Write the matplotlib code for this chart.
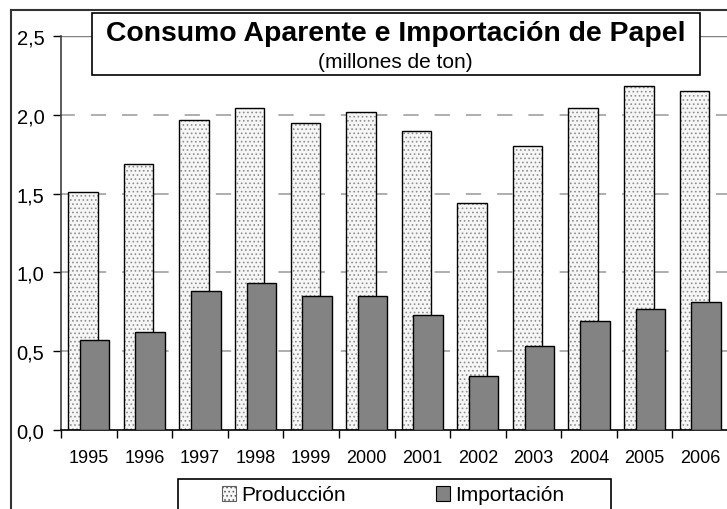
import numpy as np
import matplotlib.pyplot as plt
from matplotlib.patches import Rectangle, Patch
from matplotlib.lines import Line2D

# Consumo aparente de papel: producción e importación (millones de ton)
years = ['1995', '1996', '1997', '1998', '1999', '2000',
         '2001', '2002', '2003', '2004', '2005', '2006']
produccion = [1.51, 1.69, 1.97, 2.04, 1.95, 2.02, 1.90, 1.44, 1.80, 2.04, 2.18, 2.15]
importacion = [0.57, 0.62, 0.88, 0.93, 0.85, 0.85, 0.73, 0.34, 0.53, 0.69, 0.77, 0.81]
y_ticks = [0.0, 0.5, 1.0, 1.5, 2.0, 2.5]
y_labels = ['0,0', '0,5', '1,0', '1,5', '2,0', '2,5']

W, H = 727, 510
plt.rcParams['font.family'] = ['Liberation Sans', 'DejaVu Sans']
plt.rcParams['hatch.linewidth'] = 0.7
plt.rcParams['lines.scale_dashes'] = False

fig = plt.figure(figsize=(W / 100, H / 100), dpi=100)
ax = fig.add_axes([61 / W, 1 - 431 / H, 667 / W, 394 / H])

x = np.arange(len(years))
bw = 0.53
prod_fill = dict(color='#f6f6f6', edgecolor='#8f8f8f', hatch='....', linewidth=0)
ax.bar(x - 0.105, produccion, bw, zorder=2, **prod_fill)
ax.bar(x - 0.105, produccion, bw, fill=False, edgecolor='black', linewidth=1, zorder=3)
ax.bar(x + 0.105, importacion, bw, color='#838383', edgecolor='black', linewidth=1, zorder=4)

for v in y_ticks[1:-1]:
    ax.axhline(v, color='#a8a8a8', lw=1.3, ls=(1, (11, 11.5)), zorder=1)
ax.axhline(2.5, color='#808080', lw=1, zorder=1)

ax.set_xlim(-0.5, 11.5)
ax.set_ylim(0, 2.5)
for s in ['top', 'right']:
    ax.spines[s].set_visible(False)
ax.spines['left'].set_color('#404040')
ax.spines['left'].set_linewidth(1.2)
ax.spines['bottom'].set_linewidth(1.2)

ax.set_yticks(y_ticks, y_labels, fontsize=14.5)
ax.tick_params(axis='y', length=6, width=1, pad=6, direction='out')
ax.set_xticks(x, years, fontsize=13)
ax.set_xticks(np.arange(-0.5, 12, 1), minor=True)
ax.tick_params(axis='x', which='major', length=0, pad=14)
ax.tick_params(axis='x', which='minor', length=6, width=1, direction='out')

# outer chart border (open at right and bottom)
fig.add_artist(Line2D([11 / W, 11 / W], [1 - 11 / H, 0], color='#333333', lw=1.5))
fig.add_artist(Line2D([11 / W, 1], [1 - 11 / H, 1 - 11 / H], color='#333333', lw=1.5))

# title box
fig.add_artist(Rectangle((92 / W, 1 - 76 / H), 608 / W, 62 / H, transform=fig.transFigure,
                         facecolor='white', edgecolor='black', lw=1.2, zorder=5))
fig.text(395.5 / W, 1 - 34 / H, 'Consumo Aparente e Importación de Papel',
         ha='center', va='center', fontsize=20.4, fontweight='bold', zorder=6)
fig.text(395.5 / W, 1 - 63 / H, '(millones de ton)',
         ha='center', va='center', fontsize=15, zorder=6)

# legend box, running off the bottom edge
fig.add_artist(Rectangle((178 / W, -0.05), (611 - 178) / W, 1 - 480 / H + 0.05,
                         transform=fig.transFigure, facecolor='white',
                         edgecolor='black', lw=1.2, zorder=5))
handles = [Patch(facecolor='#f6f6f6', edgecolor='#606060', hatch='....', lw=0.8),
           Patch(facecolor='#838383', edgecolor='black', lw=0.8)]
leg = fig.legend(handles, ['Producción', 'Importación'], loc='center',
                 bbox_to_anchor=(393 / W, 1 - 496 / H), ncol=2, frameon=False,
                 fontsize=15, handlelength=0.7, handleheight=0.7,
                 handletextpad=0.25, columnspacing=4.3)
leg.set_zorder(6)

fig.savefig('out.png', dpi=100)
